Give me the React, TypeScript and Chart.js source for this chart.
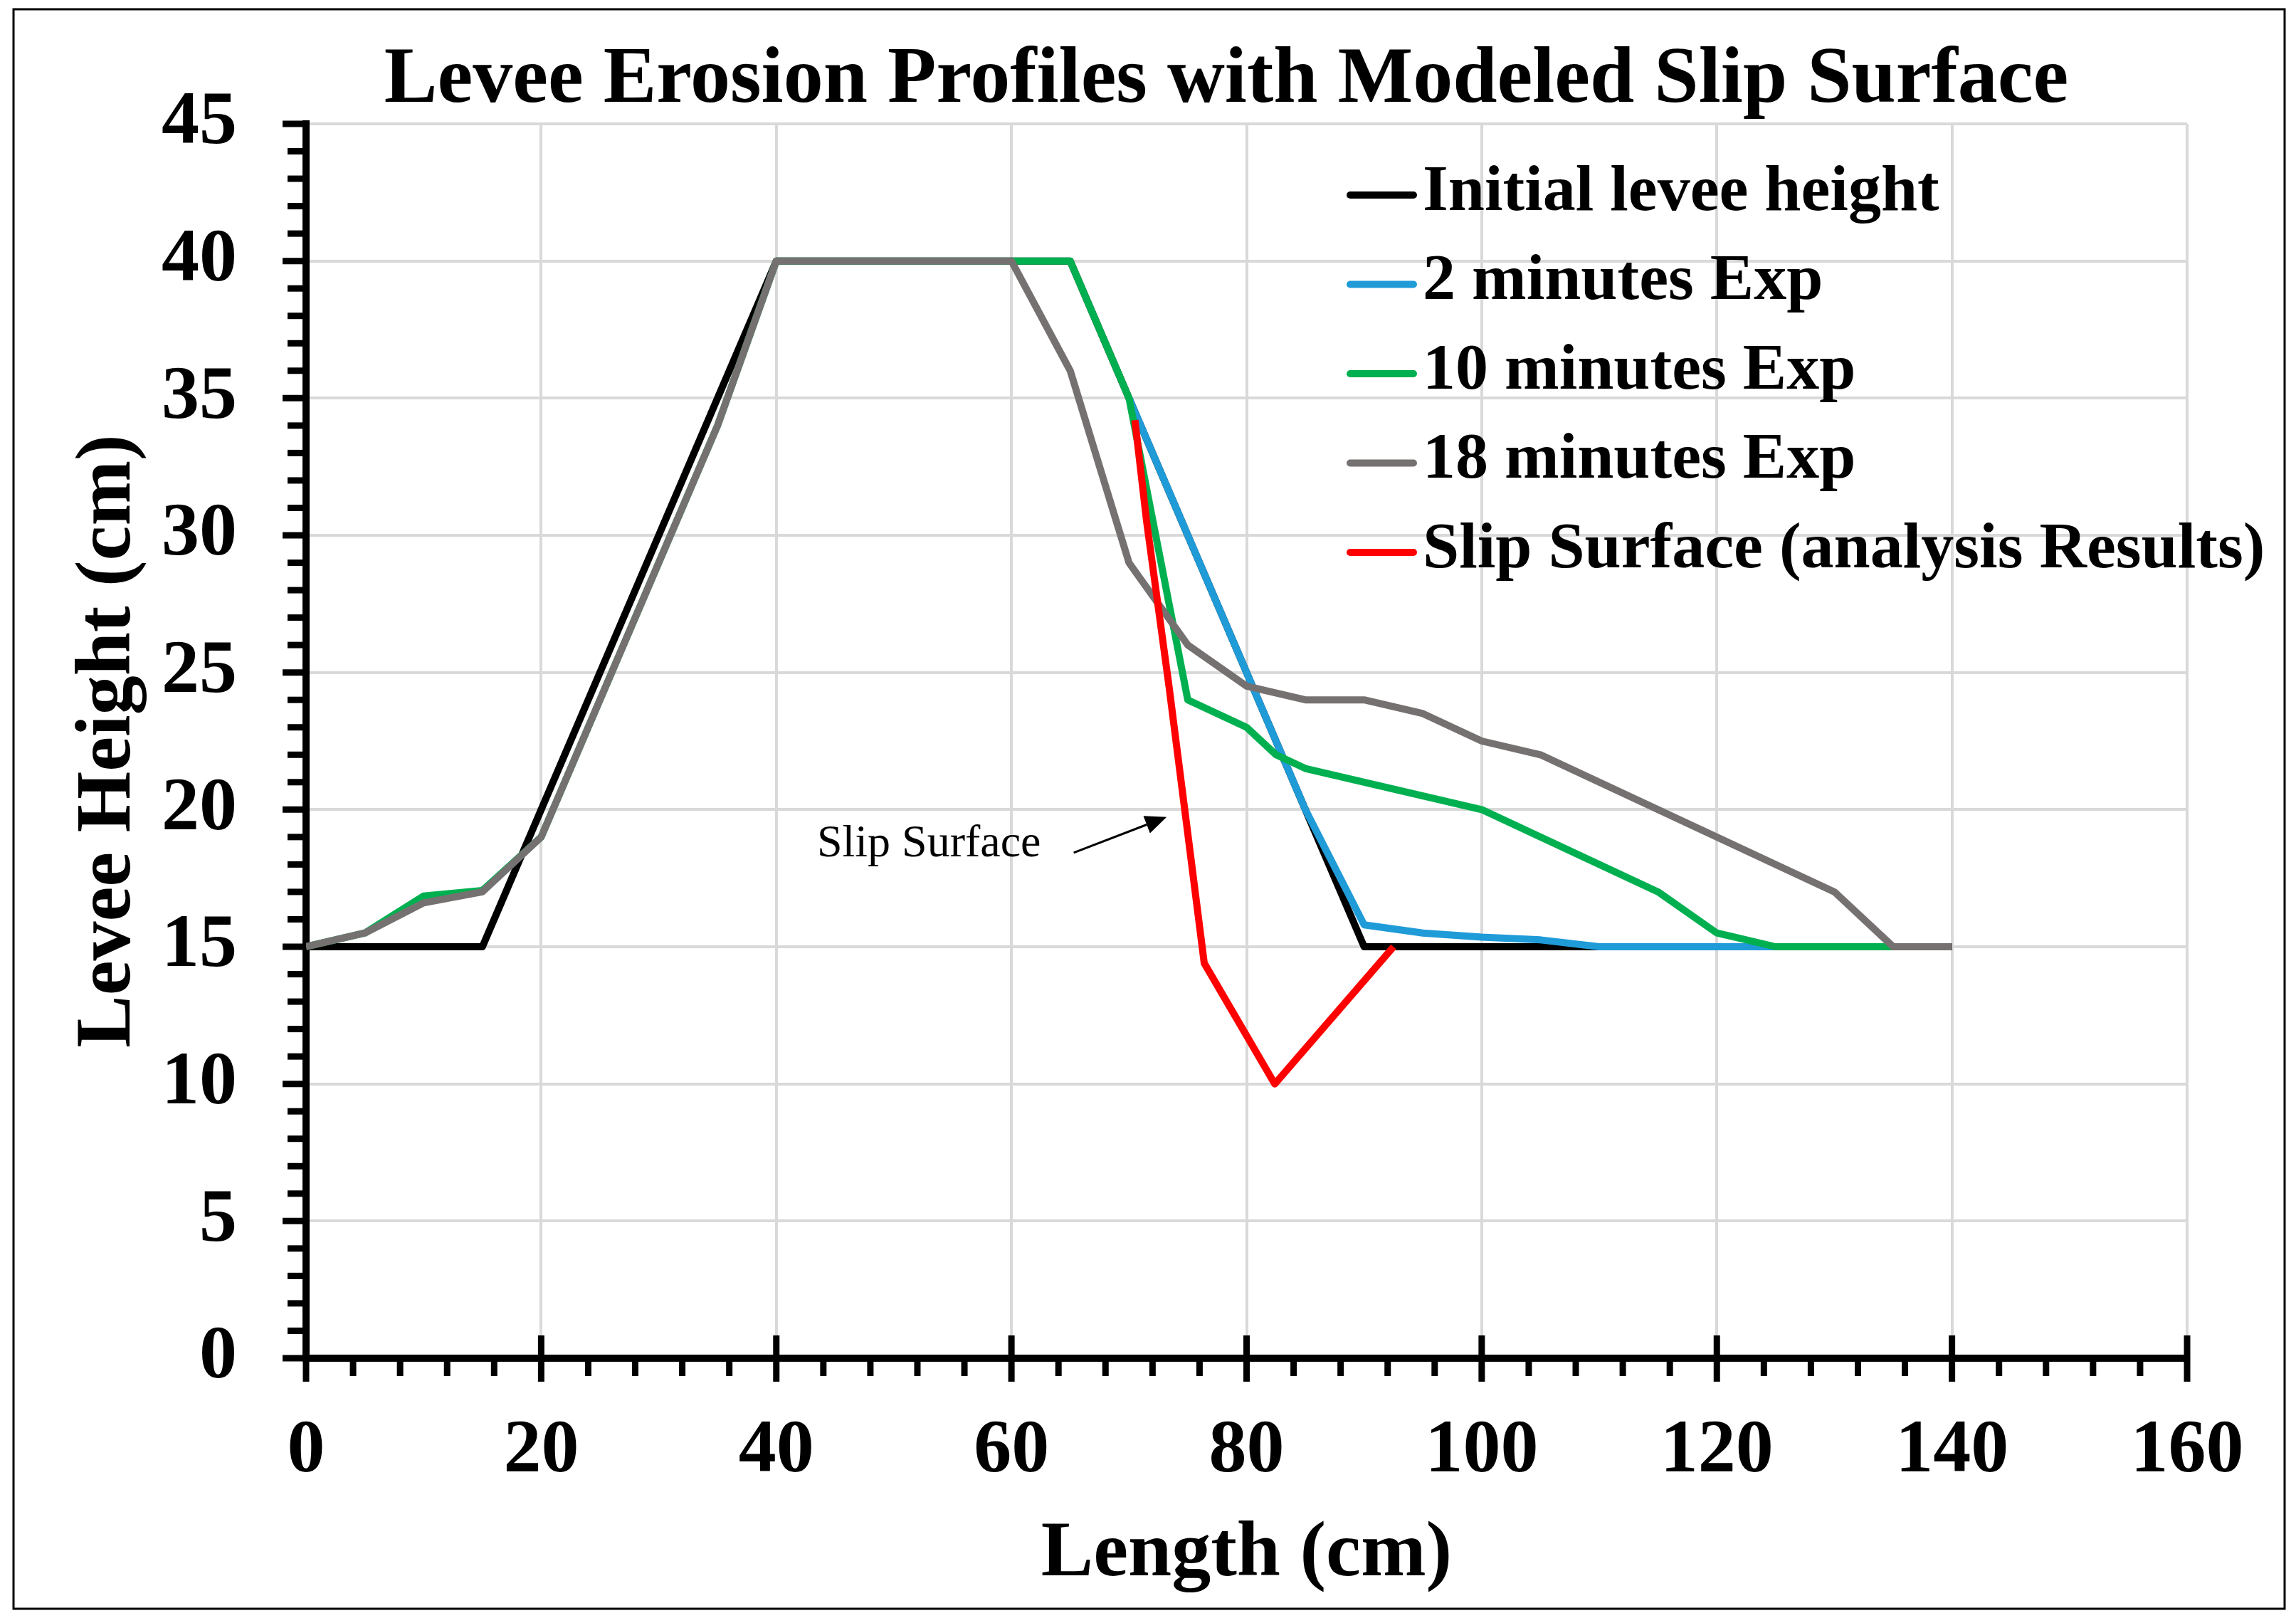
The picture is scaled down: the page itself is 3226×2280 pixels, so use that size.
import React, { useEffect, useRef } from "react";
import { Chart, registerables } from "chart.js";

Chart.register(...registerables);

// ---------- data ----------
const seriesLabels = [
  "Initial levee height",
  "2 minutes Exp",
  "10 minutes Exp",
  "18 minutes Exp",
  "Slip Surface (analysis Results)",
];

const initialX = [0, 15, 40, 60, 65, 90, 140];
const initialY = [15, 15, 40, 40, 40, 15, 15];

const min2X = [70, 75, 80, 85, 90, 95, 100, 105, 110, 125];
const min2Y = [35, 30, 25, 20, 15.8, 15.5, 15.35, 15.25, 15, 15];

const min10X = [0, 5, 10, 15, 20, 35, 40, 60, 65, 70, 75, 80, 82.5, 85, 100, 115, 120, 125, 135];
const min10Y = [15, 15.5, 16.85, 17.05, 19, 34, 40, 40, 40, 35, 24, 23, 22, 21.5, 20, 17, 15.5, 15, 15];

const min18X = [0, 5, 10, 15, 20, 35, 40, 60, 65, 70, 75, 80, 85, 90, 95, 100, 105, 130, 135, 140];
const min18Y = [15, 15.5, 16.6, 17, 19, 34, 40, 40, 36, 29, 26, 24.5, 24, 24, 23.5, 22.5, 22, 17, 15, 15];

const slipX = [70.5, 71.5, 73.4, 74.8, 76.4, 82.4, 92.5];
const slipY = [34.2, 30.5, 24.5, 19.8, 14.4, 10, 15];

const xTickValues = [0, 20, 40, 60, 80, 100, 120, 140, 160];
const yTickValues = [0, 5, 10, 15, 20, 25, 30, 35, 40, 45];
const xMinorStep = 4;
const yMinorStep = 1;

const chartTitle = "Levee Erosion Profiles with Modeled Slip Surface";
const xAxisTitle = "Length (cm)";
const yAxisTitle = "Levee Height (cm)";
const annotationText = "Slip Surface";
const annotationAt = [43.46, 18.3];
const arrowFrom = [65.3, 18.43];
const arrowTo = [73.2, 19.73];

// ---------- styles ----------
const W = 3226;
const H = 2280;
const FONT = "'Liberation Serif', 'Times New Roman', Times, serif";
const colors = ["#000000", "#1f9bd8", "#00b050", "#767171", "#ff0000"];

const toPoints = (xs: number[], ys: number[]) => xs.map((x, i) => ({ x, y: ys[i] }));

const decorPlugin = {
  id: "decor",
  afterDraw(chart: any) {
    const { ctx, chartArea: ca, scales } = chart;
    const xs = scales.x;
    const ys = scales.y;
    ctx.save();

    // outer border
    ctx.strokeStyle = "#000";
    ctx.lineWidth = 3;
    ctx.strokeRect(19, 13, 3191, 2247);

    // ticks
    ctx.lineCap = "butt";
    ctx.lineWidth = 9;
    const yMin = ys.min, yMax = ys.max;
    for (let v = yMin; v <= yMax + 1e-9; v += yMinorStep) {
      const py = ys.getPixelForValue(v);
      const major = yTickValues.includes(v);
      ctx.beginPath();
      ctx.moveTo(ca.left - (major ? 33 : 26), py);
      ctx.lineTo(ca.left, py);
      ctx.stroke();
    }
    const xMin = xs.min, xMax = xs.max;
    for (let v = xMin; v <= xMax + 1e-9; v += xMinorStep) {
      const px = xs.getPixelForValue(v);
      const major = xTickValues.includes(v);
      ctx.beginPath();
      ctx.moveTo(px, major ? ca.bottom - 32 : ca.bottom);
      ctx.lineTo(px, ca.bottom + (major ? 33 : 25));
      ctx.stroke();
    }

    // title
    ctx.fillStyle = "#000";
    ctx.font = `bold 112px ${FONT}`;
    ctx.textAlign = "center";
    ctx.textBaseline = "middle";
    ctx.fillText(chartTitle, 1723, 114);

    // legend
    const ds = chart.data.datasets;
    ctx.font = `bold 92px ${FONT}`;
    ctx.textAlign = "left";
    for (let i = 0; i < ds.length; i++) {
      const rowY = 271 + i * 125.5;
      ctx.strokeStyle = ds[i].borderColor;
      ctx.lineWidth = 10;
      ctx.lineCap = "round";
      ctx.beginPath();
      ctx.moveTo(1897, rowY + 3);
      ctx.lineTo(1986, rowY + 3);
      ctx.stroke();
      ctx.fillStyle = "#000";
      ctx.fillText(ds[i].label, 1999, rowY);
    }

    // annotation
    ctx.font = `64px ${FONT}`;
    ctx.textBaseline = "alphabetic";
    ctx.textAlign = "left";
    ctx.fillStyle = "#000";
    ctx.fillText(annotationText, xs.getPixelForValue(annotationAt[0]), ys.getPixelForValue(annotationAt[1]));

    const ax1 = xs.getPixelForValue(arrowFrom[0]);
    const ay1 = ys.getPixelForValue(arrowFrom[1]);
    const ax2 = xs.getPixelForValue(arrowTo[0]);
    const ay2 = ys.getPixelForValue(arrowTo[1]);
    const ang = Math.atan2(ay2 - ay1, ax2 - ax1);
    const headLen = 30;
    const headHalf = 13;
    const bx = ax2 - headLen * Math.cos(ang);
    const by = ay2 - headLen * Math.sin(ang);
    ctx.strokeStyle = "#000";
    ctx.lineWidth = 3;
    ctx.lineCap = "butt";
    ctx.beginPath();
    ctx.moveTo(ax1, ay1);
    ctx.lineTo(bx, by);
    ctx.stroke();
    ctx.beginPath();
    ctx.moveTo(ax2, ay2);
    ctx.lineTo(bx + headHalf * Math.sin(ang), by - headHalf * Math.cos(ang));
    ctx.lineTo(bx - headHalf * Math.sin(ang), by + headHalf * Math.cos(ang));
    ctx.closePath();
    ctx.fillStyle = "#000";
    ctx.fill();

    ctx.restore();
  },
};

export default function App() {
  const canvasRef = useRef<HTMLCanvasElement | null>(null);

  useEffect(() => {
    document.body.style.margin = "0";
    const canvas = canvasRef.current;
    if (!canvas) return;

    const seriesX = [initialX, min2X, min10X, min18X, slipX];
    const seriesY = [initialY, min2Y, min10Y, min18Y, slipY];
    const orders = [4, 3, 2, 1, 0];

    const datasets = seriesLabels.map((label, i) => ({
      label,
      data: toPoints(seriesX[i], seriesY[i]),
      borderColor: colors[i],
      backgroundColor: colors[i],
      borderWidth: 10,
      showLine: true,
      pointRadius: 0,
      pointHoverRadius: 0,
      borderJoinStyle: "round" as const,
      borderCapStyle: "butt" as const,
      tension: 0,
      order: orders[i],
    }));

    const tickFont = { family: FONT, size: 106, weight: "bold" as const };
    const titleFont = { family: FONT, size: 110, weight: "bold" as const };

    const chart = new Chart(canvas, {
      type: "scatter",
      data: { datasets },
      options: {
        animation: false,
        responsive: false,
        devicePixelRatio: 1,
        events: [],
        layout: { padding: { top: 174, right: 153, bottom: 0, left: 0 } },
        plugins: {
          legend: { display: false },
          tooltip: { enabled: false },
          title: { display: false },
        },
        scales: {
          x: {
            type: "linear",
            min: 0,
            max: 160,
            afterBuildTicks: (s: any) => {
              s.ticks = xTickValues.map((v) => ({ value: v }));
            },
            afterFit: (s: any) => {
              s.height = H - 1908;
            },
            grid: { color: "#d9d9d9", lineWidth: 4, drawTicks: false },
            border: { display: true, color: "#000", width: 10 },
            ticks: {
              font: tickFont,
              color: "#000",
              padding: 68,
              maxRotation: 0,
              autoSkip: false,
            },
            title: {
              display: true,
              text: xAxisTitle,
              font: titleFont,
              color: "#000",
              padding: { top: 0, bottom: 29 },
            },
          },
          y: {
            type: "linear",
            min: 0,
            max: 45,
            afterBuildTicks: (s: any) => {
              s.ticks = yTickValues.map((v) => ({ value: v }));
            },
            afterFit: (s: any) => {
              s.width = 430;
            },
            grid: { color: "#d9d9d9", lineWidth: 4, drawTicks: false },
            border: { display: true, color: "#000", width: 10 },
            ticks: {
              font: tickFont,
              color: "#000",
              padding: 97,
              autoSkip: false,
            },
            title: {
              display: true,
              text: yAxisTitle,
              font: titleFont,
              color: "#000",
              padding: { top: 88, bottom: 0 },
            },
          },
        },
      },
      plugins: [decorPlugin],
    });

    return () => {
      chart.destroy();
    };
  }, []);

  return (
    <div style={{ width: W, height: H, background: "#fff" }}>
      <canvas ref={canvasRef} width={W} height={H} style={{ display: "block", width: W, height: H }} />
    </div>
  );
}
